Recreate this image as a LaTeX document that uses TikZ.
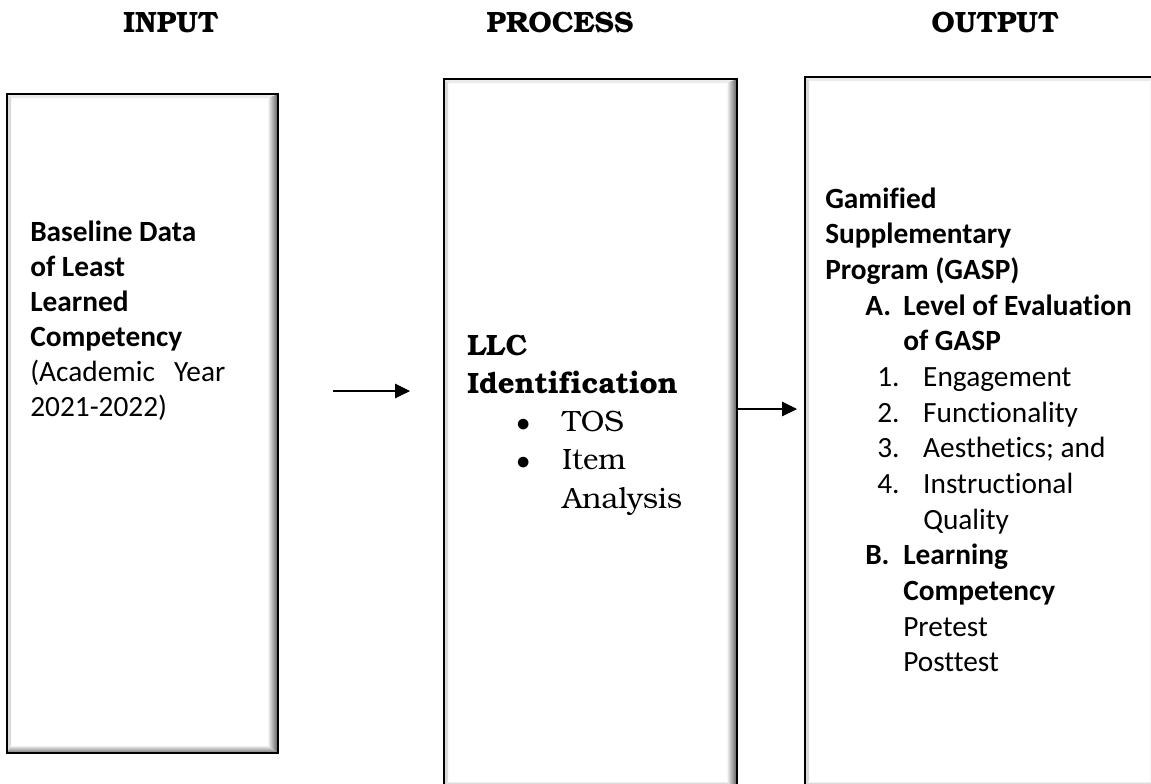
\documentclass[tikz,border=0pt]{standalone}
\usepackage{fontspec}
\setmainfont[Ligatures=NoCommon]{Carlito}
\newfontfamily\bookman[Ligatures=NoCommon]{TeX Gyre Bonum}
\usetikzlibrary{arrows.meta,calc}

\begin{document}
\begin{tikzpicture}[x=0.75pt,y=-0.75pt,>={Triangle[length=11.25pt,width=11pt]},
  head/.style={anchor=base,font=\bookman\bfseries\fontsize{22}{26}\selectfont},
  bevelbox/.style={draw=black,line width=1.9pt,inner sep=0pt,path picture={
    \coordinate (nw) at (path picture bounding box.north west);
    \coordinate (se) at (path picture bounding box.south east);
    \coordinate (ne) at (se|-nw);
    \coordinate (sw) at (nw|-se);
    \fill[black!8] (nw) -- ($(nw)+(3pt,-3pt)$) -- ($(ne)+(-8pt,-3pt)$) -- (ne) -- cycle;
    \fill[black!14] (nw) -- ($(nw)+(3pt,-3pt)$) -- ($(sw)+(3pt,6pt)$) -- (sw) -- cycle;
    \shade[left color=white,right color=black!65] (ne) -- ($(ne)+(-8pt,-3pt)$) -- ($(se)+(-8pt,6pt)$) -- (se) -- cycle;
    \shade[top color=white,bottom color=black!55] (sw) -- ($(sw)+(3pt,6pt)$) -- ($(se)+(-8pt,6pt)$) -- (se) -- cycle;
  }},
  boxtext/.style={anchor=base west,inner sep=0pt},
  flow/.style={->,line width=0.8pt}]
  \useasboundingbox (0,0) rectangle (1151,783);
  \clip (0,0) rectangle (1151,783);

  % column headings
  \node[head] (inhead) at (171,32) {INPUT};
  \node[head] (prochead) at (560,32) {PROCESS};
  \node[head] (outhead) at (995,32) {OUTPUT};

  % the three boxes
  \node[bevelbox,minimum width=203.25pt,minimum height=494.25pt] (inbox) at (142.5,423.5) {};
  \node[bevelbox,minimum width=219.75pt,minimum height=532.5pt] (procbox) at (590.5,434) {};
  \node[bevelbox,minimum width=266.25pt,minimum height=534pt] (outbox) at (982.5,433) {};

  \node[boxtext] (intext) at (30,241) {\parbox[t]{190pt}{\fontsize{22}{26.25}\selectfont
    \textbf{Baseline Data}\\
    \textbf{of Least}\\
    \textbf{Learned}\\
    \textbf{Competency}\\
    \makebox[146.25pt][s]{(Academic Year}\\
    2021-2022)}};

  \node[boxtext] (proctext) at (467,355) {\parbox[t]{200pt}{\bookman\fontsize{22}{28.7}\selectfont
    \textbf{LLC}\\
    \textbf{Identification}\\
    \hspace*{36.75pt}\makebox[34.5pt][l]{$\bullet$}TOS\\
    \hspace*{36.75pt}\makebox[34.5pt][l]{$\bullet$}Item\\
    \hspace*{71.25pt}Analysis}};

  \node[boxtext] (outtext) at (825,208) {\parbox[t]{260pt}{\fontsize{22}{26.75}\selectfont
    \textbf{Gamified}\\
    \textbf{Supplementary}\\
    \textbf{Program (GASP)}\\
    \hspace*{30pt}\makebox[28.5pt][l]{\textbf{A.}}\textbf{Level of Evaluation}\\
    \hspace*{58.5pt}\textbf{of GASP}\\
    \hspace*{39pt}\makebox[34.5pt][l]{1.}Engagement\\
    \hspace*{39pt}\makebox[34.5pt][l]{2.}Functionality\\
    \hspace*{39pt}\makebox[34.5pt][l]{3.}Aesthetics; and\\
    \hspace*{39pt}\makebox[34.5pt][l]{4.}Instructional\\
    \hspace*{73.5pt}Quality\\
    \hspace*{30pt}\makebox[28.5pt][l]{\textbf{B.}}\textbf{Learning}\\
    \hspace*{58.5pt}\textbf{Competency}\\
    \hspace*{58.5pt}Pretest\\
    \hspace*{58.5pt}Posttest}};

  % arrows
  \coordinate (arrowonestart) at (333,391);
  \coordinate (arrowoneend) at (410,391);
  \draw[flow] (arrowonestart) -- (arrowoneend);
  \coordinate (arrowtwoend) at (797,409);
  \draw[flow] (procbox.east |- arrowtwoend) -- (arrowtwoend);
\end{tikzpicture}
\end{document}
